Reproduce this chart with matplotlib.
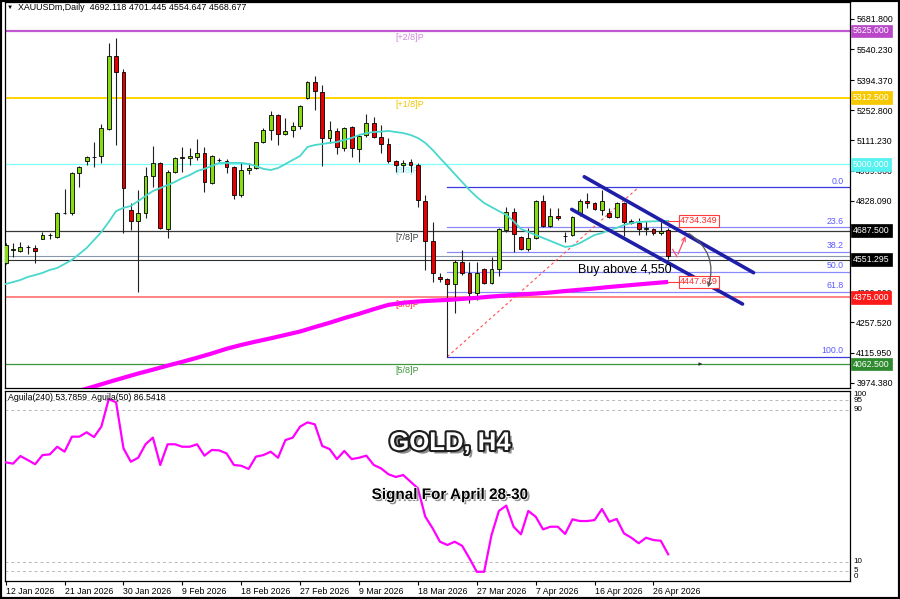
import matplotlib
matplotlib.use('Agg')
import matplotlib.pyplot as plt
import matplotlib.patheffects as pe
import matplotlib.transforms as mtransforms
from matplotlib.patches import Rectangle, FancyArrowPatch

plt.rcParams['font.family'] = ['Liberation Sans', 'DejaVu Sans']

# ---------------- data ----------------
date_labels = ['12 Jan 2026', '21 Jan 2026', '30 Jan 2026', '9 Feb 2026', '18 Feb 2026',
               '27 Feb 2026', '9 Mar 2026', '18 Mar 2026', '27 Mar 2026', '7 Apr 2026',
               '16 Apr 2026', '26 Apr 2026']
date_label_bars = [0, 8, 16, 24, 32, 40, 48, 56, 64, 72, 80, 88]

opens = [4536, 4597, 4593, 4610, 4607, 4649, 4666, 4658, 4769, 4771,
         4959, 5015, 5032, 5039, 5165, 5508, 5433, 4785, 4734, 4771,
         4945, 5006, 4696, 4963, 5031, 5029, 5034, 5053, 4912, 5020,
         5015, 4987, 4856, 4973, 4982, 5104, 5161, 5231, 5142, 5161,
         5179, 5311, 5386, 5339, 5123, 5156, 5076, 5175, 5071, 5137,
         5193, 5128, 5095, 5015, 4996, 5010, 4996, 4827, 4640, 4471,
         4461, 4438, 4541, 4490, 4396, 4508, 4443, 4508, 4691, 4776,
         4658, 4602, 4654, 4827, 4710, 4757, 4662, 4668, 4766, 4827,
         4818, 4785, 4771, 4752, 4818, 4734, 4724, 4696, 4696, 4677,
         4692.118]
highs = [4630, 4630, 4635, 4621, 4621, 4682, 4677, 4776, 4884, 4962,
         4990, 5039, 5104, 5189, 5569, 5592, 5447, 4818, 4879, 4987,
         5085, 5010, 4973, 5034, 5081, 5076, 5118, 5081, 5043, 5029,
         5024, 4990, 5006, 5006, 5106, 5170, 5250, 5236, 5217, 5198,
         5278, 5390, 5414, 5372, 5203, 5170, 5175, 5179, 5137, 5236,
         5222, 5184, 5123, 5020, 5020, 5024, 5006, 4856, 4729, 4490,
         4466, 4551, 4597, 4541, 4541, 4513, 4565, 4701, 4799, 4795,
         4663, 4701, 4832, 4856, 4795, 4795, 4682, 4757, 4837, 4865,
         4823, 4879, 4795, 4823, 4823, 4743, 4748, 4734, 4701, 4729,
         4701.445]
lows = [4530, 4565, 4590, 4580, 4536, 4647, 4650, 4655, 4766, 4762,
        4893, 4996, 4987, 5006, 5160, 5090, 4677, 4691, 4400, 4748,
        4893, 4696, 4654, 4958, 4963, 4996, 5020, 4870, 4907, 5010,
        4959, 4837, 4846, 4954, 4977, 5100, 5114, 5090, 5137, 5128,
        5165, 5306, 5254, 4992, 5100, 5048, 5062, 5034, 5010, 5128,
        5125, 5053, 5006, 4963, 4963, 4963, 4799, 4504, 4447, 4447,
        4095, 4302, 4480, 4349, 4363, 4438, 4438, 4475, 4682, 4588,
        4597, 4593, 4649, 4705, 4705, 4738, 4635, 4663, 4757, 4795,
        4785, 4762, 4748, 4748, 4663, 4719, 4668, 4668, 4668, 4668,
        4554.647]
closes = [4621, 4600, 4612, 4612, 4593, 4668, 4669, 4771, 4772, 4959,
          4987, 5034, 5036, 5170, 5508, 5433, 4888, 4734, 4771, 4945,
          5006, 4701, 4963, 5029, 5034, 5039, 5053, 4917, 5039, 5022,
          4987, 4856, 4973, 4982, 5104, 5161, 5231, 5142, 5156, 5179,
          5273, 5386, 5344, 5123, 5161, 5081, 5170, 5076, 5132, 5193,
          5128, 5095, 5015, 4996, 5006, 4996, 4832, 4640, 4490, 4461,
          4438, 4541, 4490, 4396, 4490, 4443, 4508, 4696, 4776, 4672,
          4602, 4654, 4827, 4710, 4757, 4748, 4664, 4752, 4827, 4818,
          4790, 4827, 4752, 4818, 4729, 4724, 4696, 4701, 4677, 4687,
          4568.677]

ma_fast = [4438, 4447, 4457, 4471, 4480, 4490, 4504, 4513, 4532, 4551,
           4579, 4607, 4644, 4682, 4729, 4780, 4795, 4804, 4827, 4851,
           4874, 4888, 4902, 4917, 4935, 4949, 4968, 4978, 4992, 5006,
           5006, 5006, 5006, 5001, 4992, 4978, 4973, 4982, 5001, 5020,
           5039, 5081, 5090, 5095, 5100, 5104, 5114, 5123, 5137, 5146,
           5151, 5153, 5156, 5151, 5146, 5137, 5123, 5100, 5067, 5029,
           4992, 4954, 4917, 4879, 4846, 4818, 4799, 4780, 4762, 4733,
           4696, 4682, 4668, 4654, 4640, 4626, 4612, 4616, 4630, 4649,
           4668, 4677, 4691, 4701, 4715, 4724, 4729, 4731, 4732, 4733,
           4734.349]

ma_slow_bars = list(range(10, 91, 2))
ma_slow = [3937, 3957, 3978, 3998, 4018, 4036, 4055, 4073, 4092, 4112,
           4134, 4152, 4168, 4183, 4199, 4215, 4236, 4256, 4278, 4298,
           4320, 4340, 4350, 4356, 4360, 4363, 4368, 4373, 4379, 4384,
           4389, 4393, 4398, 4405, 4411, 4417, 4424, 4430, 4436, 4442,
           4447.629]

aguila = [62.2, 61.5, 65.5, 63.4, 61.2, 66.0, 66.4, 70.4, 67.8, 75.7,
          75.7, 78.0, 75.5, 81.0, 95.5, 93.8, 69.6, 62.5, 64.6, 71.7,
          75.2, 60.8, 71.7, 71.7, 70.4, 70.4, 71.7, 65.7, 68.7, 68.5,
          66.9, 60.8, 60.4, 58.7, 65.2, 66.0, 67.8, 64.6, 73.9, 75.2,
          81.0, 83.2, 82.2, 70.8, 69.2, 63.9, 68.2, 63.9, 64.6, 65.7,
          60.8, 59.0, 55.9, 54.5, 55.5, 52.0, 48.5, 33.6, 27.5, 20.4,
          18.7, 20.4, 18.3, 11.7, 4.6, 4.6, 23.9, 36.6, 39.4, 28.3,
          24.3, 36.6, 33.6, 26.9, 28.3, 28.3, 24.5, 32.2, 31.3, 31.3,
          31.8, 37.6, 30.9, 32.4, 24.8, 22.5, 19.6, 22.5, 21.3, 20.9,
          13.8]

murrey_levels = [5625.0, 5312.5, 5000.0, 4687.5, 4375.0, 4062.5]
murrey_names = ['[+2/8]P', '[+1/8]P', '[8/8]P', '[7/8]P', '[6/8]P', '[5/8]P']
murrey_line_colors = ['#c058d0', '#ffd400', '#80ffff', '#383838', '#ff7a7a', '#3c963c']
murrey_text_colors = ['#d088e0', '#f2c400', '#80f4ff', '#404040', '#ff3030', '#3c963c']
murrey_box_colors = ['#b848c8', '#f5c800', '#55f2f2', '#000000', '#ff1a1a', '#2e8b2e']

price_ticks = [5681.8, 5540.23, 5394.37, 5252.8, 5111.23, 4969.66, 4828.09,
               4399.0, 4257.52, 4115.95, 3974.38]

bid_price = 4568.677
hline_price = 4551.295

fib_low, fib_high = 4097.0, 4892.0
fib_start_bar, fib_end_bar = 60, 86
fib_ratios = [0.0, 0.236, 0.382, 0.5, 0.618, 1.0]
fib_names = ['0.0', '23.6', '38.2', '50.0', '61.8', '100.0']

chan_upper_x, chan_upper_y = [78.6, 101.6], [4941, 4491]
chan_lower_x, chan_lower_y = [76.9, 100.1], [4788, 4344]

agu_levels = [95, 90, 10, 5]

# ---------------- figure ----------------
W, H = 900, 599
fig = plt.figure(figsize=(9, 5.99), dpi=100)
fig.patch.set_facecolor('white')


def fx(px):
    return px / W


def fy(py):
    return 1 - py / H


ax = fig.add_axes([fx(4.5), fy(388), fx(850) - fx(4.5), fy(2) - fy(388)])
axi = fig.add_axes([fx(4.5), fy(580.5), fx(850) - fx(4.5), fy(390.5) - fy(580.5)])

XL = (-0.16, 114.7)
ax.set_xlim(*XL)
ax.set_ylim(3950, 5761)
axi.set_xlim(*XL)
axi.set_ylim(0, 100)

for a in (ax, axi):
    for s in a.spines.values():
        s.set_color('black')
        s.set_linewidth(0.9)

# Murrey lines
lws = [1.6, 1.4, 0.9, 0.9, 1.3, 0.9]
for lev, name, lc, tc, lw in zip(murrey_levels, murrey_names, murrey_line_colors,
                                 murrey_text_colors, lws):
    ax.axhline(lev, color=lc, lw=lw, zorder=1)
    ax.text(53, lev - 10, name, color=tc, fontsize=6.5, ha='left', va='top', zorder=2)

ax.axhline(bid_price, color='#8796a8', lw=0.8, zorder=1)
ax.axhline(hline_price, color='#303030', lw=0.8, zorder=1)

# Fibonacci
fib_range = fib_high - fib_low
for r, name in zip(fib_ratios, fib_names):
    lev = fib_high - r * fib_range
    col = '#3a3ae0' if r in (0.0, 1.0) else '#8a8aff'
    ax.plot([fib_start_bar, XL[1]], [lev, lev], color=col, lw=0.9, zorder=1)
    ax.text(113.8, lev + 8, name, color='#5a5aff', fontsize=6.3, ha='right', va='bottom', zorder=2)
ax.plot([fib_start_bar, fib_end_bar], [fib_low, fib_high], color='#ff5050',
        lw=0.8, ls=(0, (2.5, 2.5)), zorder=2)

# candles
for i, (o, h, l, c) in enumerate(zip(opens, highs, lows, closes)):
    ax.plot([i, i], [l, h], color='#202020', lw=0.8, zorder=3, solid_capstyle='butt')
    fc = '#86dc10' if c >= o else '#e80000'
    bottom = min(o, c)
    height = max(abs(c - o), 1.0)
    ax.add_patch(Rectangle((i - 0.26, bottom), 0.52, height, facecolor=fc,
                           edgecolor='black', lw=0.6, zorder=4))

# moving averages
ax.plot(range(len(ma_fast)), ma_fast, color='#48d8cc', lw=1.3, zorder=5)
ax.plot(ma_slow_bars, ma_slow, color='#ff00ff', lw=3.0, zorder=5, solid_capstyle='butt')

# channel
ax.plot(chan_upper_x, chan_upper_y, color='#1e1ea8', lw=2.6, zorder=6, solid_capstyle='round')
ax.plot(chan_lower_x, chan_lower_y, color='#1e1ea8', lw=2.6, zorder=6, solid_capstyle='round')

# right price labels
for val in (ma_fast[-1], ma_slow[-1]):
    ax.plot([90, 91.6], [val, val], color='#ff3b3b', lw=0.8, zorder=6)
    ax.text(91.6, val, f'{val:.3f}', color='#ff2a2a', fontsize=6.6, ha='left', va='center',
            zorder=7, bbox=dict(boxstyle='square,pad=0.15', fc='white', ec='#ff3b3b', lw=0.8))

# arrows
ax.plot([90.6, 91.2], [4600, 4566], color='#ff4d6d', lw=0.9, zorder=7)
ax.annotate('', xy=(92.5, 4675), xytext=(91.2, 4566),
            arrowprops=dict(arrowstyle='->', color='#ff4d6d', lw=0.9, mutation_scale=7), zorder=7)
ax.add_patch(FancyArrowPatch((92.5, 4682), (95.3, 4410), connectionstyle='arc3,rad=-0.4',
                             arrowstyle='->', mutation_scale=7, color='#555555', lw=0.9, zorder=7))
ax.annotate('', xy=(95.0, 4062.5), xytext=(93.9, 4062.5),
            arrowprops=dict(arrowstyle='-|>', color='#333333', lw=0.7, mutation_scale=4), zorder=7)

ax.text(77.7, 4503, 'Buy above 4,550', fontsize=9, color='black', ha='left', va='center', zorder=8)

# y axis
ax.set_xticks([])
ax.yaxis.tick_right()
ax.set_yticks(price_ticks)
ax.set_yticklabels([f'{t:.3f}' for t in price_ticks])
ax.tick_params(axis='y', length=3, width=0.8, labelsize=6.3, pad=1.5, colors='black')

btrans = mtransforms.blended_transform_factory(ax.transAxes, ax.transData)
for lev, bc in zip(murrey_levels, murrey_box_colors):
    ax.text(1.0035, lev, f'{lev:.3f}', transform=btrans, color='white', fontsize=6.3,
            ha='left', va='center', clip_on=False, zorder=10,
            bbox=dict(boxstyle='square,pad=0.22', fc=bc, ec=bc, lw=0.5))
ax.text(1.0035, hline_price, f'{hline_price:.3f}', transform=btrans, color='white', fontsize=6.3,
        ha='left', va='center', clip_on=False, zorder=10,
        bbox=dict(boxstyle='square,pad=0.22', fc='black', ec='black', lw=0.5))

# indicator panel
for lev in agu_levels:
    axi.axhline(lev, color='#b8b8b8', lw=0.7, ls=(0, (3, 3)), zorder=1)
axi.plot(range(len(aguila)), aguila, color='#ff00ff', lw=1.6, zorder=3)
axi.set_yticks([])
axi.set_xticks(date_label_bars)
axi.set_xticklabels(date_labels, ha='left')
axi.tick_params(axis='x', length=3, width=0.8, labelsize=6.3, pad=1.5)
itrans = mtransforms.blended_transform_factory(axi.transAxes, axi.transData)
for v, va in ((100, 'top'), (95, 'center'), (90, 'center'), (10, 'center'), (5, 'center'), (0, 'bottom')):
    axi.text(1.004, v, str(v), transform=itrans, fontsize=5.8, ha='left', va=va, clip_on=False)
axi.text(0.004, 0.985, 'Aguila(240) 53.7859  Aguila(50) 86.5418', transform=axi.transAxes,
         fontsize=6.3, ha='left', va='top')

# header
fig.text(fx(7), fy(7.5), '\u25bc', fontsize=4.5, ha='left', va='center')
fig.text(fx(18), fy(7.5), 'XAUUSDm,Daily  4692.118 4701.445 4554.647 4568.677',
         fontsize=6.4, ha='left', va='center')

# overlay titles
fig.text(fx(450), fy(443), 'GOLD, H4', fontsize=18.5, fontweight='bold', color='white',
         ha='center', va='center', zorder=20,
         path_effects=[pe.SimplePatchShadow(offset=(2.5, -2.5), shadow_rgbFace='#000000', alpha=0.45),
                       pe.Stroke(linewidth=3, foreground='#1e1e1e'), pe.Normal()])
fig.text(fx(450), fy(495), 'Signal For April 28-30', fontsize=11, fontweight='bold', color='black',
         ha='center', va='center', zorder=20,
         path_effects=[pe.SimplePatchShadow(offset=(1.5, -1.5), shadow_rgbFace='#777777', alpha=0.8),
                       pe.Stroke(linewidth=1.2, foreground='white'), pe.Normal()])

# outer border
fig.patches.append(Rectangle((0, 0), 1, 1, transform=fig.transFigure, fill=False,
                             ec='black', lw=3, zorder=30))

fig.savefig('out.png', dpi=100)
